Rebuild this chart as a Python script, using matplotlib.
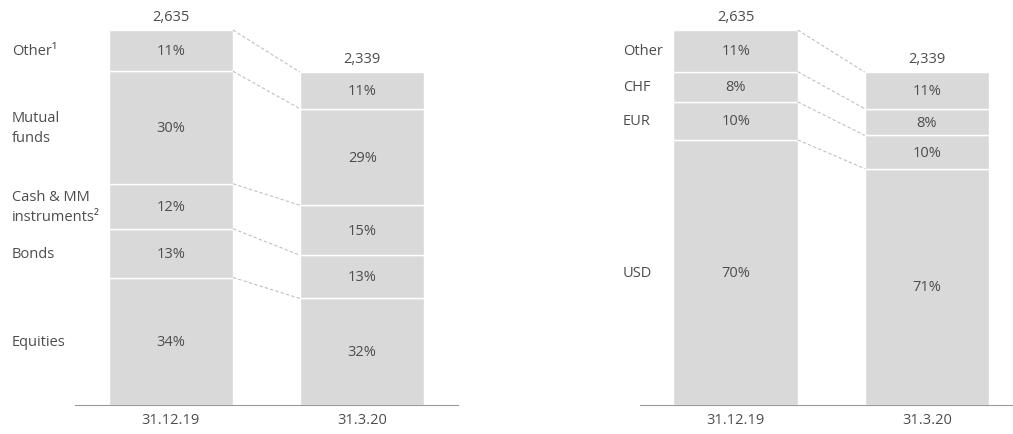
import matplotlib.pyplot as plt
from matplotlib import transforms

plt.rcParams['font.family'] = ['Open Sans', 'DejaVu Sans']

dates = ["31.12.19", "31.3.20"]
totals = [2635, 2339]
total_labels = ["2,635", "2,339"]

# by asset class, bottom to top
asset_names = ["Equities", "Bonds", "Cash & MM\ninstruments\u00b2", "Mutual\nfunds", "Other\u00b9"]
asset_1219 = [34, 13, 12, 30, 11]
asset_0320 = [32, 13, 15, 29, 11]

# by currency, bottom to top
ccy_names = ["USD", "EUR", "CHF", "Other"]
ccy_1219 = [70, 10, 8, 11]
ccy_0320 = [71, 10, 8, 11]

BAR = "#d9d9d9"
TXT = "#4d4d4d"
W = 0.65
FS = 10.5


def panel(fig, ax, names, s1, s2, label_x):
    series = [s1, s2]
    bounds = []
    for i, vals in enumerate(series):
        scale = totals[i] / sum(vals)
        bottom = 0
        b = [0]
        for v in vals:
            h = v * scale
            ax.bar(i, h, bottom=bottom, width=W, color=BAR, edgecolor="white", linewidth=1)
            ax.text(i, bottom + h / 2, f"{v}%", ha="center", va="center", fontsize=FS, color=TXT)
            bottom += h
            b.append(bottom)
        bounds.append(b)
        ax.text(i, totals[i] + 40, total_labels[i], ha="center", va="bottom", fontsize=FS, color=TXT)
    # dashed connectors between the bars
    for y1, y2 in zip(bounds[0][1:], bounds[1][1:]):
        ax.plot([0 + W / 2, 1 - W / 2], [y1, y2], ls=(0, (3, 2)), color="#c0c0c0", lw=0.8)
    # category labels left of the first bar
    tr = transforms.blended_transform_factory(fig.transFigure, ax.transData)
    b = bounds[0]
    for k, name in enumerate(names):
        ax.text(label_x / 1013, (b[k] + b[k + 1]) / 2, name, transform=tr, ha="left", va="center",
                fontsize=FS, color=TXT, linespacing=1.45)
    ax.set_ylim(0, 2853)
    ax.set_xticks([0, 1])
    ax.set_xticklabels(dates, fontsize=FS, color=TXT)
    ax.tick_params(axis="x", length=0, pad=5)
    ax.set_yticks([])
    for s in ["top", "right", "left"]:
        ax.spines[s].set_visible(False)
    ax.spines["bottom"].set_color("#9a9a9a")
    ax.spines["bottom"].set_linewidth(0.8)


fig = plt.figure(figsize=(10.13, 4.35), dpi=100)
ax1 = fig.add_axes([75 / 1013, 29 / 435, 383 / 1013, 406 / 435])
ax1.set_xlim(-0.5, 1.5)
ax2 = fig.add_axes([640 / 1013, 29 / 435, 373 / 1013, 406 / 435])
ax2.set_xlim(-0.5, 1.45)

panel(fig, ax1, asset_names, asset_1219, asset_0320, 12)
panel(fig, ax2, ccy_names, ccy_1219, ccy_0320, 623)

fig.savefig("out.png", dpi=100)
